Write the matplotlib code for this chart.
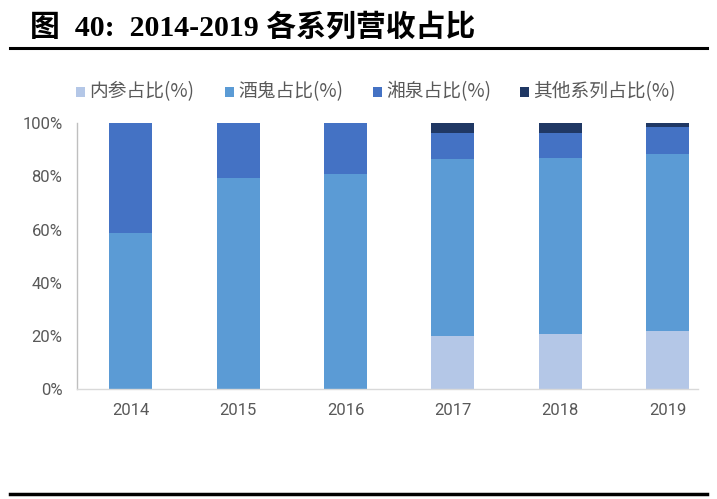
import matplotlib
matplotlib.use("Agg")
import matplotlib.pyplot as plt
from matplotlib.patches import Rectangle
from matplotlib.lines import Line2D

years = ["2014", "2015", "2016", "2017", "2018", "2019"]
neican = [0.0, 0.0, 0.0, 20.2, 20.9, 22.1]
jiugui = [58.9, 79.5, 80.9, 66.3, 66.2, 66.5]
xiangquan = [41.1, 20.5, 19.1, 9.9, 9.3, 10.0]
others = [0.0, 0.0, 0.0, 3.6, 3.6, 1.4]
series_names = ["内参占比(%)", "酒鬼占比(%)", "湘泉占比(%)", "其他系列占比(%)"]
yticks = [0, 20, 40, 60, 80, 100]
ytick_labels = ["0%", "20%", "40%", "60%", "80%", "100%"]

colors = ["#b4c7e7", "#5b9bd5", "#4472c4", "#203864"]
cjk = ["Noto Sans CJK SC", "DejaVu Sans"]
W, H = 717, 499

fig = plt.figure(figsize=(7.17, 4.99), dpi=100)
ax = fig.add_axes([77 / W, 109.7 / H, (697.7 - 77) / W, 266 / H])

x = list(range(len(years)))
bottom = [0.0] * len(years)
for vals, c in zip([neican, jiugui, xiangquan, others], colors):
    ax.bar(x, vals, width=0.4, bottom=bottom, color=c, edgecolor="none", zorder=2)
    bottom = [b + v for b, v in zip(bottom, vals)]

ax.set_xlim(-0.5, 5.28)
ax.set_ylim(0, 100)
ax.set_yticks(yticks)
ax.set_yticklabels(ytick_labels, family="Roboto", fontsize=12, color="#595959")
ax.set_yticks([0], minor=True)
ax.set_xticks(x)
ax.set_xticklabels(years, family="Roboto", fontsize=12, color="#595959")
for s in ["top", "right"]:
    ax.spines[s].set_visible(False)
ax.spines["left"].set_color("#bfbfbf")
ax.spines["bottom"].set_color("#d9d9d9")
ax.spines["left"].set_linewidth(1.0)
ax.spines["bottom"].set_linewidth(1.0)
ax.tick_params(axis="y", which="major", length=0, pad=10.5)
ax.tick_params(axis="y", which="minor", length=3.5, color="#bfbfbf")
ax.tick_params(axis="x", length=0, pad=10)

# legend, laid out as in the reference
sq_x = [76, 225, 373, 520]
ly = 92
for sx, c, name in zip(sq_x, colors, series_names):
    fig.add_artist(Rectangle((sx / W, 1 - (ly + 4.5) / H), 9 / W, 9 / H,
                             transform=fig.transFigure, facecolor=c, edgecolor="none"))
    fig.text((sx + 13) / W, 1 - ly / H, name, family=cjk, fontsize=13.5,
             color="#595959", va="center", ha="left")

fig.text(30 / W, 1 - 27 / H, "图  40:  2014-2019 各系列营收占比",
         family=["Liberation Serif", "Noto Sans CJK SC"], fontweight="bold", fontsize=21.5,
         va="center", ha="left", color="black")

fig.add_artist(Line2D([10 / W, 707 / W], [1 - 48 / H, 1 - 48 / H], color="black", lw=2.2))
fig.add_artist(Line2D([10 / W, 707 / W], [1 - 494 / H, 1 - 494 / H], color="black", lw=2.5))

fig.savefig("out.png", dpi=100)
